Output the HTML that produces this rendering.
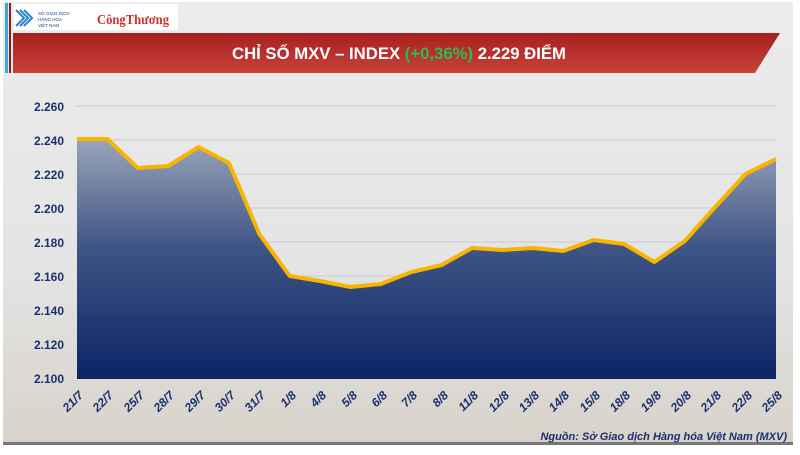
<!DOCTYPE html>
<html><head><meta charset="utf-8"><style>
body{margin:0;width:800px;height:450px;overflow:hidden;font-family:"Liberation Sans",sans-serif;}
</style></head><body>
<svg width="800" height="450" xmlns="http://www.w3.org/2000/svg">
<defs>
<linearGradient id="bg" x1="0" y1="0" x2="0" y2="1">
<stop offset="0" stop-color="#ececec"/><stop offset="0.6" stop-color="#e4e4e4"/><stop offset="1" stop-color="#d8d2ca"/>
</linearGradient>
<linearGradient id="fill" x1="0" y1="0" x2="0" y2="1">
<stop offset="0" stop-color="#9aa5bb"/><stop offset="0.45" stop-color="#3f5585"/><stop offset="1" stop-color="#0b2465"/>
</linearGradient>
<linearGradient id="ban" x1="0" y1="0" x2="0" y2="1">
<stop offset="0" stop-color="#a8201f"/><stop offset="1" stop-color="#c9413a"/>
</linearGradient>
</defs>
<rect width="800" height="450" fill="#fff"/>
<rect x="3" y="2" width="790" height="442" fill="url(#bg)"/>
<rect x="3" y="442" width="790" height="3" fill="#777"/>
<rect x="5" y="3" width="3" height="70" fill="#3aa7df"/>
<rect x="9" y="3" width="2" height="70" fill="#8a1c1a"/>
<rect x="14" y="4" width="164" height="26" fill="#fff"/>
<text x="38" y="15" font-size="4.5" fill="#1a3f8a">SỞ GIAO DỊCH</text>
<text x="38" y="21" font-size="4.5" fill="#1a3f8a">HÀNG HÓA</text>
<text x="38" y="27" font-size="4.5" fill="#1a3f8a">VIỆT NAM</text>
<path d="M16 10 l8 8 l-8 8 M20 10 l8 8 l-8 8 M24 10 l8 8 l-8 8" stroke="#2a7fd0" stroke-width="2" fill="none"/>
<text x="97" y="24" font-size="14" font-family="Liberation Serif,serif" fill="#d0302b" font-weight="bold" textLength="72" lengthAdjust="spacingAndGlyphs">CôngThương</text>
<path d="M13 33 L780 33 L755 73 L13 73 Z" fill="url(#ban)"/>
<text x="232" y="59" font-size="17" font-weight="bold" fill="#fff" textLength="334" lengthAdjust="spacingAndGlyphs">CHỈ SỐ MXV – INDEX <tspan fill="#2dbb4b">(+0,36%)</tspan> 2.229 ĐIỂM</text>
<g stroke="#c8c8d4" stroke-width="1">
<line x1="77" y1="106" x2="776" y2="106"/><line x1="77" y1="140" x2="776" y2="140"/><line x1="77" y1="174" x2="776" y2="174"/><line x1="77" y1="208" x2="776" y2="208"/><line x1="77" y1="242" x2="776" y2="242"/><line x1="77" y1="276" x2="776" y2="276"/><line x1="77" y1="310" x2="776" y2="310"/><line x1="77" y1="344" x2="776" y2="344"/>
</g>
<g font-size="12" font-weight="bold" fill="#1a2f6e" text-anchor="end">
<text x="64" y="111">2.260</text><text x="64" y="145">2.240</text><text x="64" y="179">2.220</text><text x="64" y="213">2.200</text><text x="64" y="247">2.180</text><text x="64" y="281">2.160</text><text x="64" y="315">2.140</text><text x="64" y="349">2.120</text><text x="64" y="383">2.100</text>
</g>
<path d="M77 139 L107.4 139 L137.8 168 L168.2 166 L198.6 147 L229 163 L259.3 234 L289.7 276 L320.1 281 L350.5 287 L380.9 284 L411.3 272 L441.7 265 L472.1 248 L502.5 250 L532.9 248 L563.3 251 L593.7 240 L624 244 L654.4 262 L684.8 241 L715.2 207 L745.6 174 L776 159 L776 379 L77 379 Z" fill="url(#fill)"/>
<path d="M77 139 L107.4 139 L137.8 168 L168.2 166 L198.6 147 L229 163 L259.3 234 L289.7 276 L320.1 281 L350.5 287 L380.9 284 L411.3 272 L441.7 265 L472.1 248 L502.5 250 L532.9 248 L563.3 251 L593.7 240 L624 244 L654.4 262 L684.8 241 L715.2 207 L745.6 174 L776 159" fill="none" stroke="#f7b500" stroke-width="4" stroke-linejoin="round"/>
<g font-size="12" font-weight="bold" font-style="italic" fill="#1a2f6e" text-anchor="end">
<text transform="translate(84 396) rotate(-45)">21/7</text>
<text transform="translate(114 396) rotate(-45)">22/7</text>
<text transform="translate(145 396) rotate(-45)">25/7</text>
<text transform="translate(175 396) rotate(-45)">28/7</text>
<text transform="translate(206 396) rotate(-45)">29/7</text>
<text transform="translate(236 396) rotate(-45)">30/7</text>
<text transform="translate(266 396) rotate(-45)">31/7</text>
<text transform="translate(297 396) rotate(-45)">1/8</text>
<text transform="translate(327 396) rotate(-45)">4/8</text>
<text transform="translate(358 396) rotate(-45)">5/8</text>
<text transform="translate(388 396) rotate(-45)">6/8</text>
<text transform="translate(418 396) rotate(-45)">7/8</text>
<text transform="translate(449 396) rotate(-45)">8/8</text>
<text transform="translate(479 396) rotate(-45)">11/8</text>
<text transform="translate(510 396) rotate(-45)">12/8</text>
<text transform="translate(540 396) rotate(-45)">13/8</text>
<text transform="translate(570 396) rotate(-45)">14/8</text>
<text transform="translate(601 396) rotate(-45)">15/8</text>
<text transform="translate(631 396) rotate(-45)">18/8</text>
<text transform="translate(662 396) rotate(-45)">19/8</text>
<text transform="translate(692 396) rotate(-45)">20/8</text>
<text transform="translate(722 396) rotate(-45)">21/8</text>
<text transform="translate(753 396) rotate(-45)">22/8</text>
<text transform="translate(783 396) rotate(-45)">25/8</text>
</g>
<text x="787" y="440" text-anchor="end" font-size="11" font-style="italic" font-weight="bold" fill="#1a2f6e">Nguồn: Sở Giao dịch Hàng hóa Việt Nam (MXV)</text>
</svg>
</body></html>
